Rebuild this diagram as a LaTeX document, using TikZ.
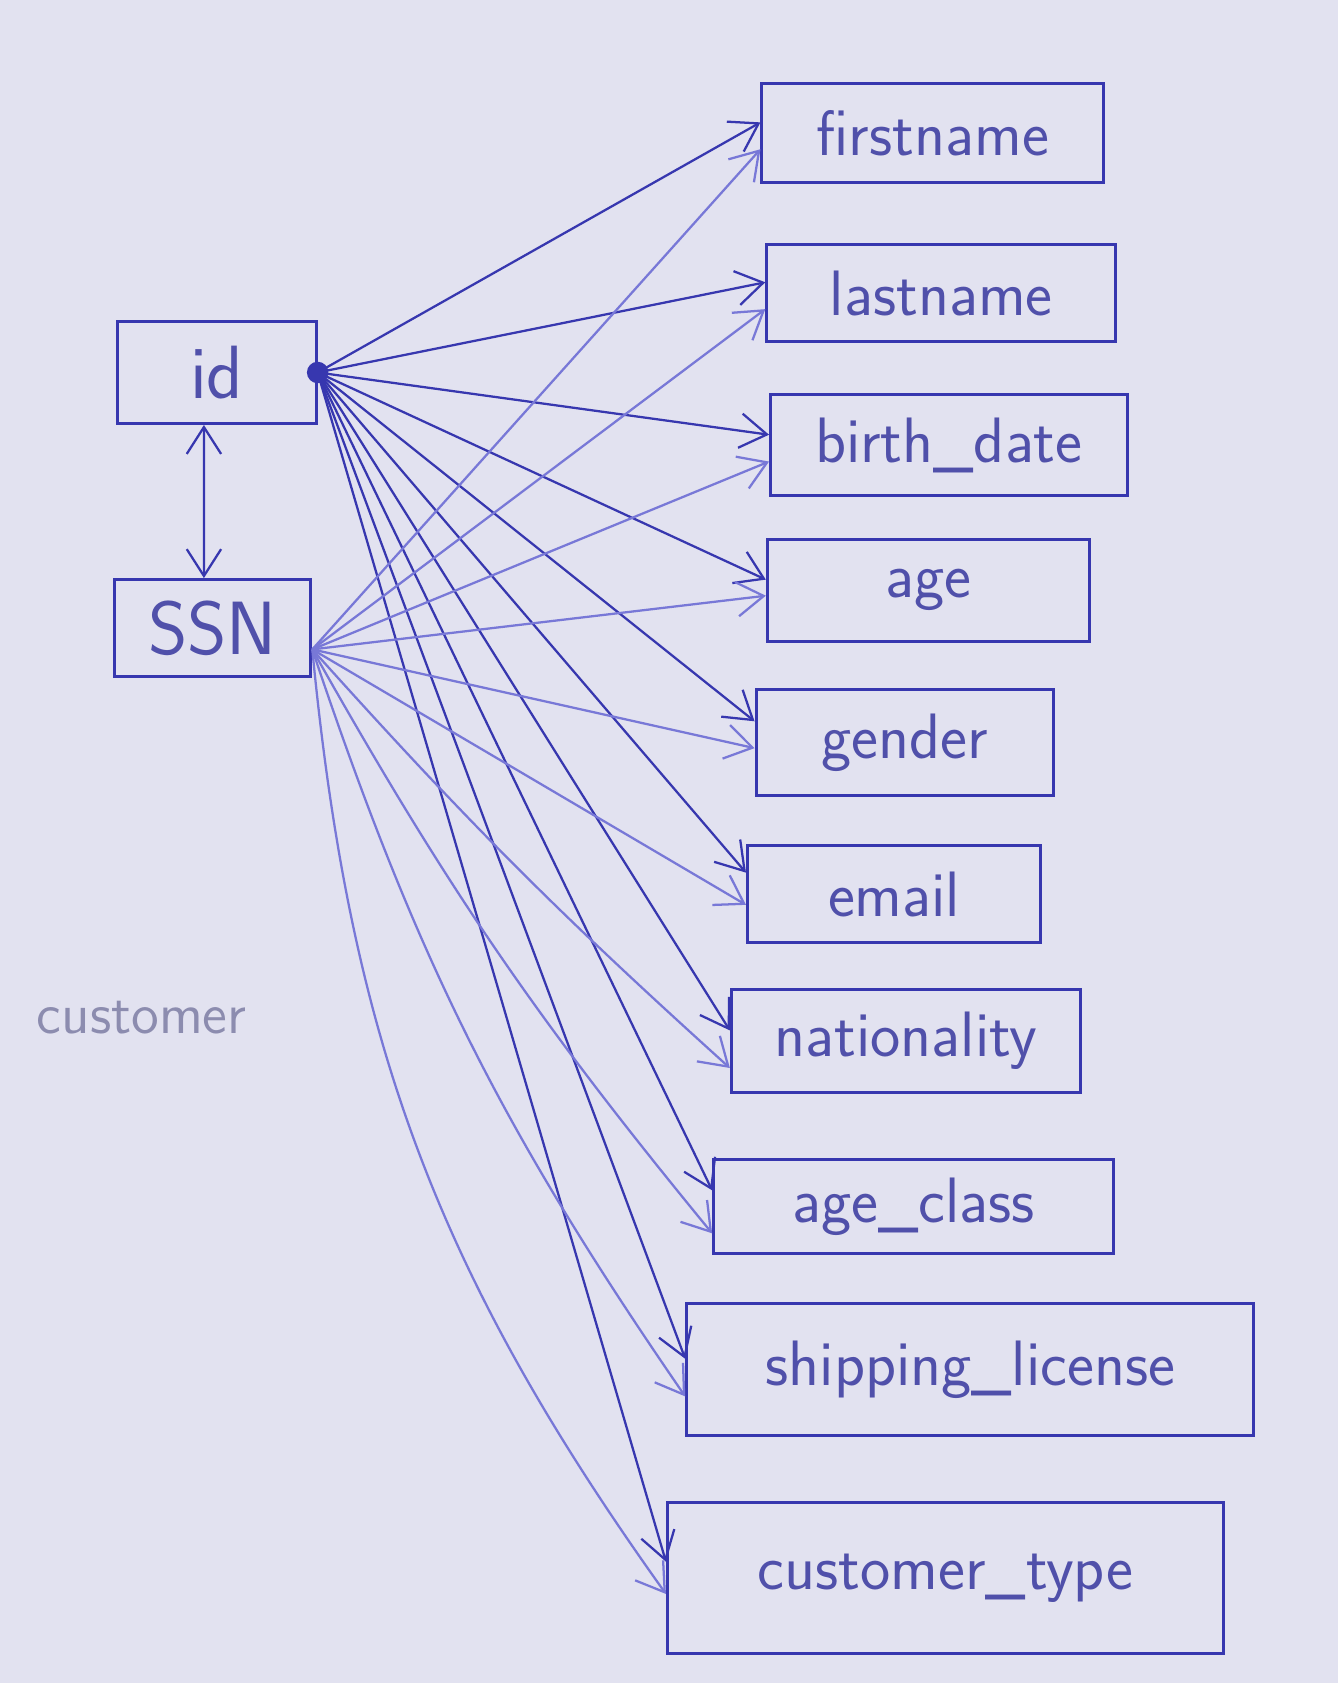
\documentclass[tikz,border=0pt]{standalone}
\usepackage{tikz}
\usetikzlibrary{arrows,arrows.meta,positioning}
\definecolor{ink}{RGB}{55,55,175}
\definecolor{inklight}{RGB}{120,120,215}
\definecolor{inktext}{RGB}{80,80,170}
\definecolor{paper}{RGB}{226,226,240}
\definecolor{pencil}{RGB}{140,140,175}

\begin{document}
\begin{tikzpicture}[x=0.01cm, y=-0.01cm, >={Straight Barb[length=2.5mm,width=3.2mm]},
  attr/.style={draw=ink, thick, rectangle, text=inktext, font=\sffamily\fontsize{17}{20}\selectfont},
  key/.style={draw=ink, thick, rectangle, text=inktext, font=\sffamily\fontsize{20}{24}\selectfont},
  idarr/.style={->, ink, semithick},
  ssnarr/.style={->, inklight, semithick}]
\fill[paper] (0,0) rectangle (1247,1568);
\node (id) [key, minimum width=1.85cm, minimum height=0.95cm] at (202,347) {id};
\node (ssn) [key, minimum width=1.83cm, minimum height=0.9cm] at (198,585) {SSN};
\node (custlabel) [text=pencil, font=\sffamily\fontsize{15}{18}\selectfont] at (132,948) {customer};
\node (firstname) [attr, minimum width=3.18cm, minimum height=0.92cm] at (869,124) {firstname};
\node (lastname) [attr, minimum width=3.25cm, minimum height=0.9cm] at (877,273) {lastname};
\node (birthdate) [attr, minimum width=3.32cm, minimum height=0.94cm] at (884,415) {birth\_date};
\node (age) [attr, minimum width=3cm, minimum height=0.95cm] at (865,550) {age};
\node (gender) [attr, minimum width=2.77cm, minimum height=0.99cm] at (843,692) {gender};
\node (email) [attr, minimum width=2.73cm, minimum height=0.9cm] at (833,833) {email};
\node (nationality) [attr, minimum width=3.25cm, minimum height=0.96cm] at (844,970) {nationality};
\node (ageclass) [attr, minimum width=3.72cm, minimum height=0.88cm] at (851,1124) {age\_class};
\node (shipping) [attr, minimum width=5.28cm, minimum height=1.23cm] at (904,1276) {shipping\_license};
\node (ctype) [attr, minimum width=5.18cm, minimum height=1.4cm] at (881,1470) {customer\_type};
\coordinate (ssnout) at ([yshift=-2mm]ssn.east);
\fill[ink] (id.east) circle (1mm);
\draw[<->, ink, semithick] ([xshift=-1.2mm]id.south) -- ([xshift=-0.8mm]ssn.north);
% id determines everything
\draw[idarr] (id.east) -- ([yshift=1mm]firstname.west);
\draw[idarr] (id.east) -- ([yshift=1mm]lastname.west);
\draw[idarr] (id.east) -- ([yshift=1mm]birthdate.west);
\draw[idarr] (id.east) -- ([yshift=1mm]age.west);
\draw[idarr] (id.east) -- ([yshift=2mm]gender.west);
\draw[idarr] (id.east) -- ([yshift=2mm]email.west);
\draw[idarr] (id.east) -- ([yshift=1mm]nationality.west);
\draw[idarr] (id.east) -- ([yshift=1.5mm]ageclass.west);
\draw[idarr] (id.east) -- ([yshift=1mm]shipping.west);
\draw[idarr] (id.east) -- ([yshift=1.5mm]ctype.west);
% SSN determines everything too
\draw[ssnarr] (ssnout) -- ([yshift=-1.5mm]firstname.west);
\draw[ssnarr] (ssnout) -- ([yshift=-1.5mm]lastname.west);
\draw[ssnarr] (ssnout) -- ([yshift=-1.5mm]birthdate.west);
\draw[ssnarr] (ssnout) -- ([yshift=-0.5mm]age.west);
\draw[ssnarr] (ssnout) -- ([yshift=-0.5mm]gender.west);
\draw[ssnarr] (ssnout) -- ([yshift=-1mm]email.west);
\draw[ssnarr] (ssnout) to[bend right=3] ([yshift=-2.5mm]nationality.west);
\draw[ssnarr] (ssnout) to[bend right=5] ([yshift=-2.5mm]ageclass.west);
\draw[ssnarr] (ssnout) to[bend right=8] ([yshift=-2.5mm]shipping.west);
\draw[ssnarr] (ssnout) to[bend right=15] ([yshift=-1.5mm]ctype.west);
\end{tikzpicture}
\end{document}
